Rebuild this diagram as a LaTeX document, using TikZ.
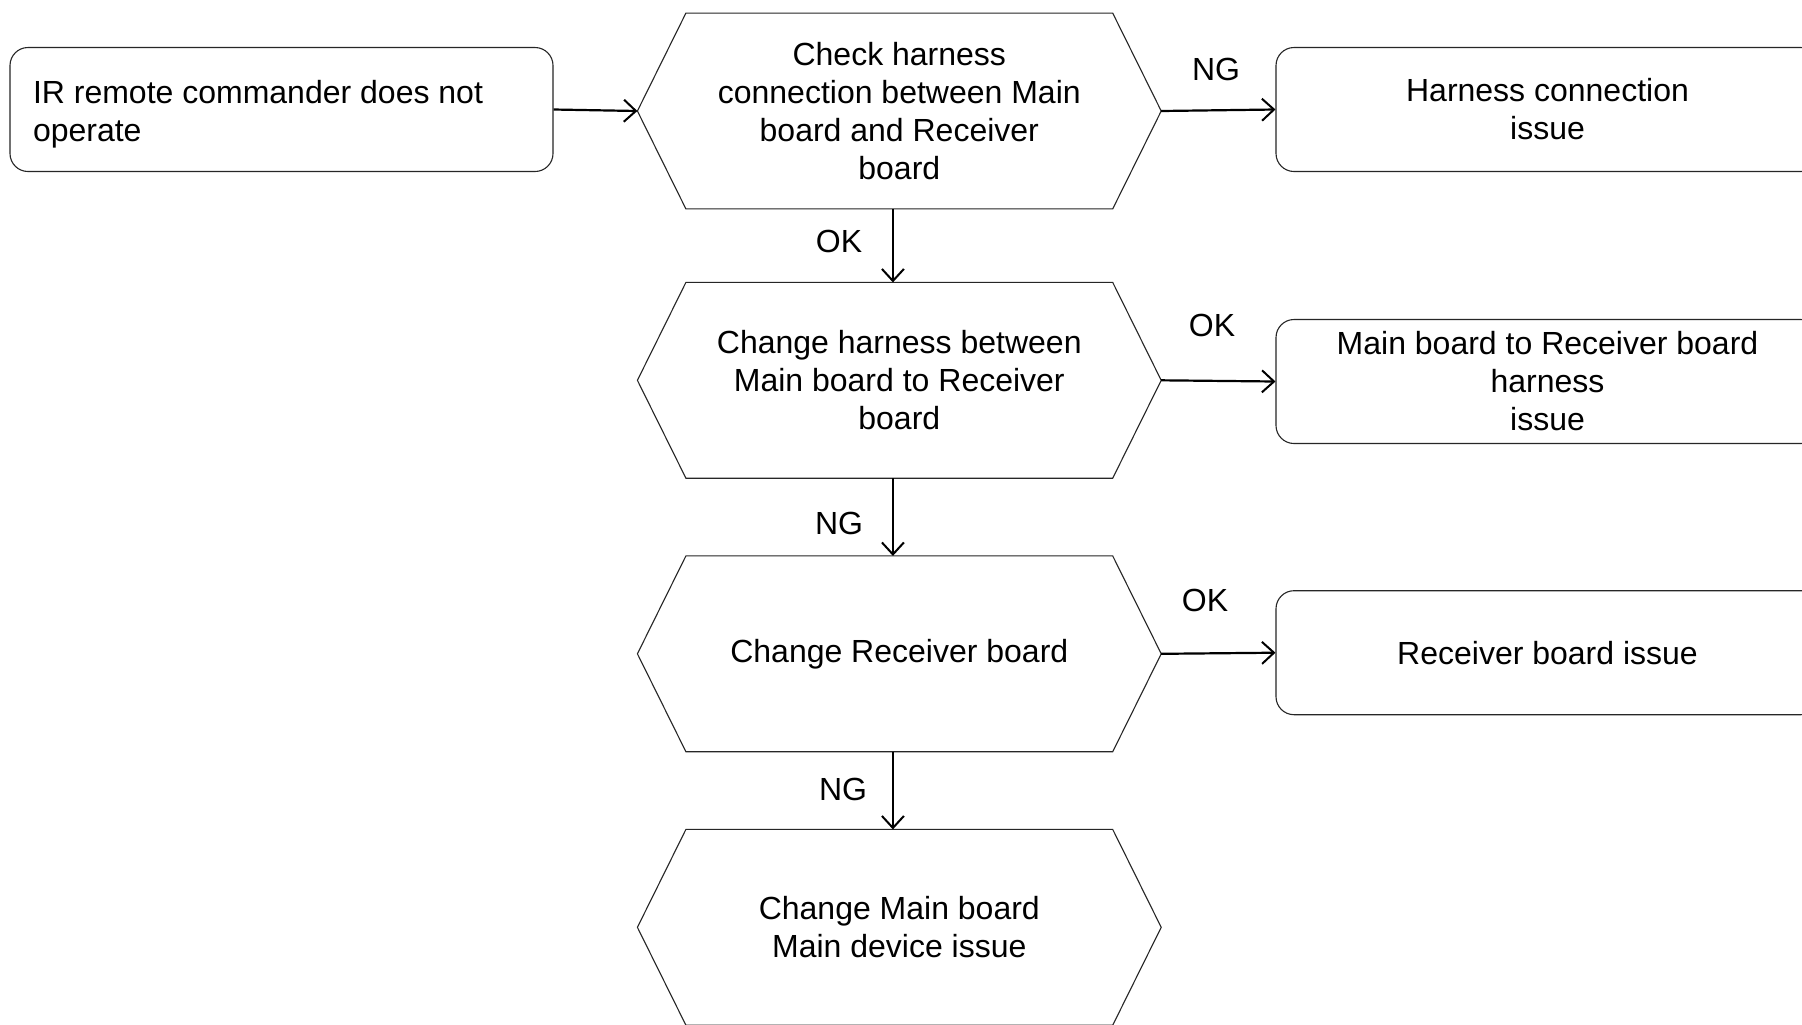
\documentclass[tikz,border=0pt]{standalone}
\usepackage{fontspec}
\setmainfont{Liberation Sans}
\usetikzlibrary{arrows.meta}
\newcommand\hexoutline[1]{\draw[hexline] (#1.west) -- ([xshift=24.25pt]#1.north west) -- ([xshift=-24.25pt]#1.north east) -- (#1.east) -- ([xshift=-24.25pt]#1.south east) -- ([xshift=24.25pt]#1.south west) -- cycle;}
\tikzset{
  txt/.style={font=\fontsize{16pt}{19pt}\selectfont},
  hexa/.style={txt, draw=none, minimum width=261.5pt, minimum height=97.5pt, inner sep=0pt, align=center},
  hexline/.style={draw=black!85, line width=0.55pt},
  rbox/.style={txt, draw=black!85, line width=0.55pt, rounded corners=9pt, minimum width=271.5pt, minimum height=62pt, inner sep=0pt, align=center},
  lbl/.style={txt, inner sep=0pt},
  arr/.style={-{Straight Barb[length=6pt,width=11pt,line width=1pt]}, line width=1.1pt, black},
}
\begin{document}
\begin{tikzpicture}[x=0.5pt,y=-0.5pt]
\clip (0,0) rectangle (1802,1024);
\fill[white] (0,0) rectangle (1802,1024);

\node[rbox] (b0) at (281.5,109.5) {\raisebox{-2.2pt}[\height][\depth]{\begin{minipage}{248.5pt}\raggedright IR remote commander does not\\operate\end{minipage}}};

\node[hexa] (h1) at (899.3,111) {Check harness\\connection between Main\\board and Receiver\\board};
\node[hexa] (h2) at (899.3,380.3) {Change harness between\\Main board to Receiver\\board};
\node[hexa] (h3) at (899.3,653.8) {Change Receiver board};
\node[hexa] (h4) at (899.3,927.3) {Change Main board\\Main device issue};
\hexoutline{h1}
\hexoutline{h2}
\hexoutline{h3}
\hexoutline{h4}

\node[rbox] (b1) at (1547.5,109.5) {Harness connection\\issue};
\node[rbox] (b2) at (1547.5,381.5) {Main board to Receiver board\\harness\\issue};
\node[rbox] (b3) at (1547.5,652.7) {Receiver board issue};

\draw[arr] (b0.east) -- (h1.west);
\draw[arr] (h1.east) -- (b1.west);
\draw[arr] (h2.east) -- (b2.west);
\draw[arr] (h3.east) -- (b3.west);
\draw[arr] ([xshift=-3.2pt]h1.south) -- ([xshift=-3.2pt]h2.north);
\draw[arr] ([xshift=-3.2pt]h2.south) -- ([xshift=-3.2pt]h3.north);
\draw[arr] ([xshift=-3.2pt]h3.south) -- ([xshift=-3.2pt]h4.north);

\node[lbl] (l1) at (1216,69) {NG};
\node[lbl] (l2) at (839,241) {OK};
\node[lbl] (l3) at (1212,325) {OK};
\node[lbl] (l4) at (839,523) {NG};
\node[lbl] (l5) at (1205,600) {OK};
\node[lbl] (l6) at (843,789) {NG};
\end{tikzpicture}
\end{document}
